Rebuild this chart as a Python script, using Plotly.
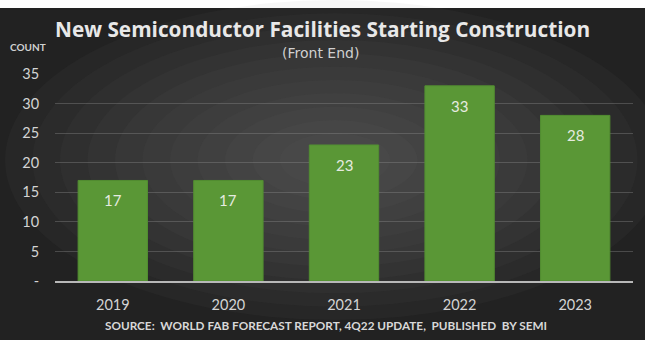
import plotly.graph_objects as go

years = ["2019", "2020", "2021", "2022", "2023"]
counts = [17, 17, 23, 33, 28]
y_ticks = [0, 5, 10, 15, 20, 25, 30, 35]
y_tick_labels = ["-", "5", "10", "15", "20", "25", "30", "35"]

W, H = 645, 350
ML, MR, MT, MB = 55, 12, 74, 69
PW, PH = W - ML - MR, H - MT - MB


def px(x):
    return (x - ML) / PW


def py(y):
    return (H - MB - y) / PH


fig = go.Figure()

fig.add_trace(go.Bar(
    x=years, y=counts,
    marker=dict(color="#5a9736", line=dict(color="#528e31", width=1)),
    hoverinfo="skip",
))

# value labels inside the top of each bar (category index on the x axis)
for i, c in enumerate(counts):
    fig.add_annotation(x=i, y=c, text=str(c), showarrow=False,
                       yanchor="top", yshift=-9,
                       font=dict(family="Lato", size=15, color="#e6ebe0"))

shapes = []
# dark panel
shapes.append(dict(type="rect", xref="paper", yref="paper", layer="below",
                   x0=px(-5), x1=px(W + 5), y0=py(340), y1=py(8),
                   fillcolor="#222222", line=dict(width=0)))
# soft radial highlight (decoration)
cx, cy = 335, 160
n = 12
for k in range(n):
    f = 1 - k / n
    rx, ry = 330 * f, 160 * f
    shapes.append(dict(type="circle", xref="paper", yref="paper", layer="below",
                       x0=px(cx - rx), x1=px(cx + rx),
                       y0=py(cy + ry), y1=py(cy - ry),
                       fillcolor="rgba(120,120,120,0.06)", line=dict(width=0)))
fig.update_layout(shapes=shapes)

fig.add_annotation(xref="paper", yref="paper", x=px(322), y=py(29),
                   text="<b>New Semiconductor Facilities Starting Construction</b>",
                   showarrow=False, xanchor="center", yanchor="middle",
                   font=dict(family="Open Sans", size=20.8, color="#e8e8e8"))
fig.add_annotation(xref="paper", yref="paper", x=px(320), y=py(53),
                   text="(Front End)", showarrow=False, xanchor="center", yanchor="middle",
                   font=dict(family="DejaVu Sans", size=14, color="#d0d0d0"))
fig.add_annotation(xref="paper", yref="paper", x=px(8), y=py(47),
                   text="<b>COUNT</b>", showarrow=False, xanchor="left", yanchor="middle",
                   font=dict(family="Lato", size=10, color="#d0d0d0"))
fig.add_annotation(xref="paper", yref="paper", x=px(326), y=py(325),
                   text="<b>SOURCE:  WORLD FAB FORECAST REPORT, 4Q22 UPDATE,  PUBLISHED  BY SEMI</b>",
                   showarrow=False, xanchor="center", yanchor="middle",
                   font=dict(family="Lato", size=11.75, color="#d8d8d8"))

fig.update_layout(
    width=W, height=H,
    margin=dict(l=ML, r=MR, t=MT, b=MB),
    paper_bgcolor="white",
    plot_bgcolor="rgba(0,0,0,0)",
    bargap=0.4,
    showlegend=False,
    xaxis=dict(type="category", range=[-0.5, 4.5], showgrid=False, showline=True,
               linecolor="#b8b8b8", linewidth=1.5,
               ticks="outside", ticklen=10, tickcolor="rgba(0,0,0,0)",
               tickfont=dict(family="Lato", size=14.5, color="#d4d4d4"),
               fixedrange=True),
    yaxis=dict(range=[0, 35], tickvals=y_ticks, ticktext=y_tick_labels,
               showgrid=True, gridcolor="rgba(150,150,150,0.35)", gridwidth=1,
               zeroline=False, showline=False,
               ticks="outside", ticklen=12, tickcolor="rgba(0,0,0,0)",
               tickfont=dict(family="Lato", size=14.5, color="#d4d4d4"),
               fixedrange=True),
)

fig.write_html("out.html")
